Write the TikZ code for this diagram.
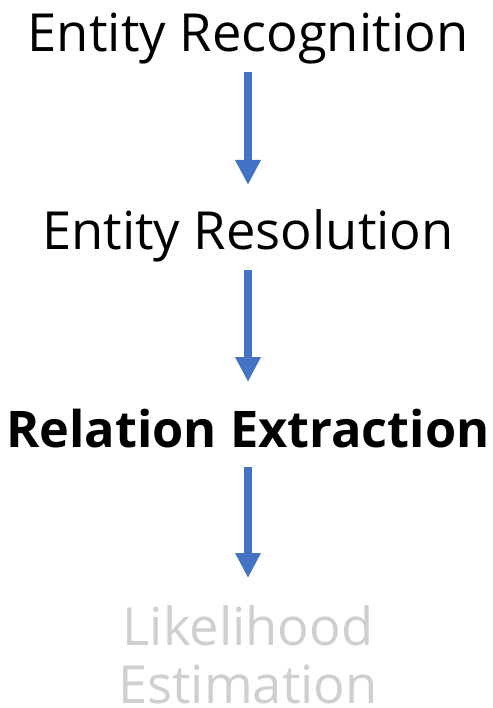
\documentclass[tikz,border=0pt]{standalone}
\usepackage{fontspec}
\setmainfont{Open Sans}
\usetikzlibrary{arrows.meta}
\definecolor{flowblue}{HTML}{4472C4}
\definecolor{fadedgray}{HTML}{D0CECE}
\tikzset{
  stage/.style={anchor=base, inner sep=0pt, font=\fontsize{52.5}{60}\selectfont},
  keystage/.style={stage, font=\fontsize{50.5}{60}\selectfont\bfseries},
  flow/.style={draw=flowblue, line width=8pt, -{Triangle[width=24pt,length=25pt]}}
}
\begin{document}
\begin{tikzpicture}[x=1pt,y=1pt]
  \useasboundingbox (0,0) rectangle (492,-708);
  \node[stage] (rec) at (248,-52) {Entity Recognition};
  \node[stage] (res) at (248,-250) {Entity Resolution};
  \node[keystage] (rel) at (248,-447) {Relation Extraction};
  \node[stage, text=fadedgray] (lik) at (248,-645) {Likelihood};
  \node[stage, text=fadedgray] (est) at (248,-703) {Estimation};
  \draw[flow] ([yshift=-20pt]rec.base) -- ([yshift=65pt]res.base);
  \draw[flow] ([yshift=-20pt]res.base) -- ([yshift=65pt]rel.base);
  \draw[flow] ([yshift=-20pt]rel.base) -- ([yshift=67pt]lik.base);
\end{tikzpicture}
\end{document}
